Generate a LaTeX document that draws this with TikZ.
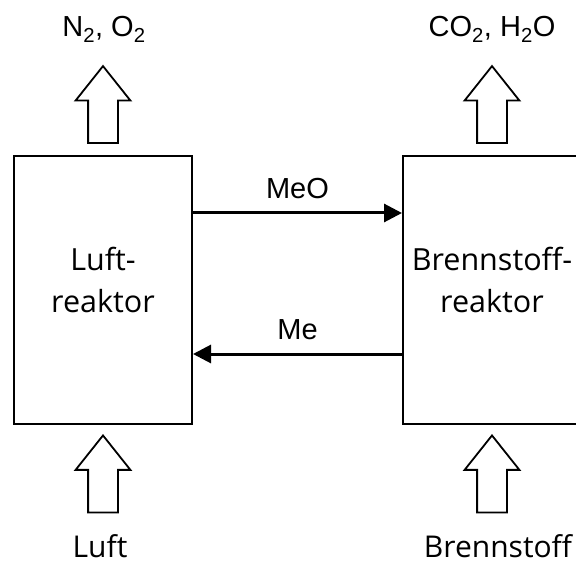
\documentclass[tikz,border=0pt]{standalone}
\usepackage{fontspec}
\setmainfont{Open Sans}
\newfontfamily\arialfont{Liberation Sans}
\usetikzlibrary{shapes.arrows,arrows.meta}

\begin{document}
\begin{tikzpicture}[x=1pt, y=-1pt,
  reactor/.style={draw, line width=2pt, minimum width=178pt, minimum height=268pt, align=center, text depth=20pt, font=\fontsize{30.5}{42}\selectfont},
  feed/.style={single arrow, draw, line width=1.8pt, rotate=90, anchor=tail, inner xsep=0pt, inner ysep=14pt, minimum width=53pt, minimum height=77pt, single arrow tip angle=77, single arrow head extend=12.5pt},
  flow/.style={line width=3pt, -{Triangle[length=18pt, width=18pt]}},
  flowlabel/.style={font=\arialfont\fontsize{29}{35}\selectfont, inner sep=0pt},
  species/.style={font=\arialfont\fontsize{29}{35}\selectfont, inner sep=0pt, anchor=base},
  stream/.style={font=\fontsize{30}{36}\selectfont, inner sep=0pt, anchor=base}]
  \path[use as bounding box] (0,0) rectangle (576,564);
  \clip (0,0) rectangle (576,564);
  % Reactors
  \node[reactor] (luftR) at (103,290) {Luft-\\reaktor};
  \node[reactor] (brennR) at (492,290) {Brennstoff-\\reaktor};
  % Feed and exhaust arrows
  \node[feed] (abgasL) at ([yshift=11pt]luftR.north) {};
  \node[feed] (abgasR) at ([yshift=11pt]brennR.north) {};
  \node[feed, anchor=tip] (zufuhrL) at ([yshift=-9pt]luftR.south) {};
  \node[feed, anchor=tip] (zufuhrR) at ([yshift=-9pt]brennR.south) {};
  % Labels
  \node[species] (nO) at (104,37) {N\textsubscript{2}, O\textsubscript{2}};
  \node[species] (coH) at (492,37) {CO\textsubscript{2}, H\textsubscript{2}O};
  \node[stream] (luft) at (100,557) {Luft};
  \node[stream] (brennstoff) at (498,557) {Brennstoff};
  % Solid circulation
  \draw[flow] ([yshift=77pt]luftR.east) -- ([yshift=77pt]brennR.west) node[midway, above=13pt, flowlabel] {MeO};
  \draw[flow] ([yshift=-64pt]brennR.west) -- ([yshift=-64pt]luftR.east) node[midway, above=13pt, flowlabel] {Me};
\end{tikzpicture}
\end{document}
